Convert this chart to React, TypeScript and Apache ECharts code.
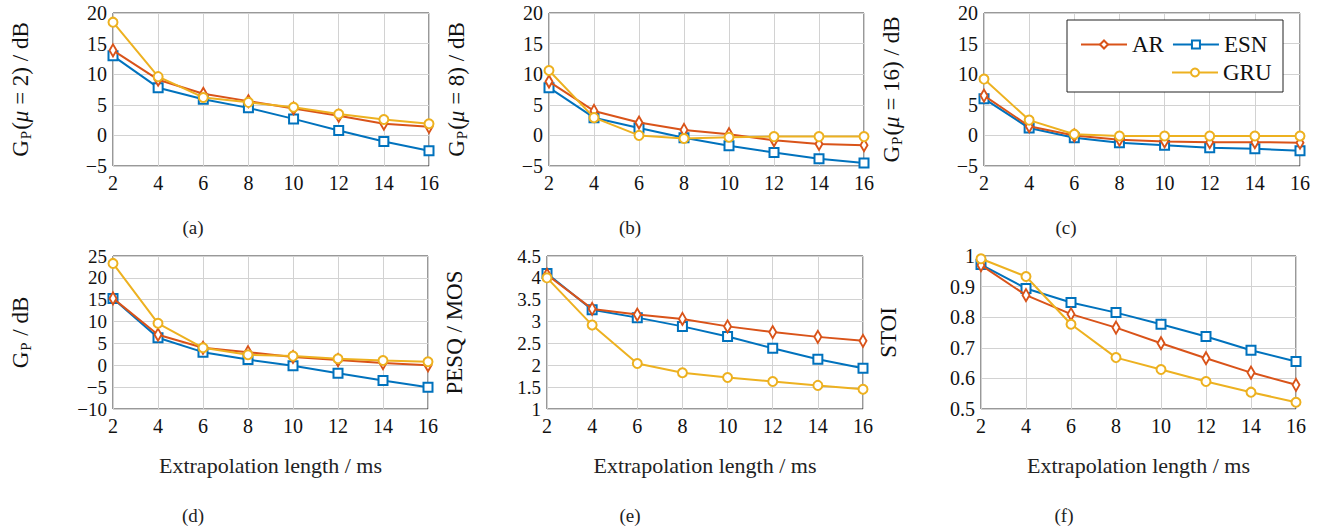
import React, { useEffect, useRef } from "react";
import * as echarts from "echarts";

const xs = [2, 4, 6, 8, 10, 12, 14, 16];

// (a) Gp mu=2
const arA = [13.9, 9.1, 6.8, 5.6, 4.4, 3.2, 1.9, 1.4];
const esnA = [13.0, 7.8, 5.9, 4.5, 2.7, 0.8, -1.0, -2.5];
const gruA = [18.5, 9.6, 6.2, 5.4, 4.6, 3.5, 2.6, 1.9];
// (b) Gp mu=8
const arB = [8.8, 4.0, 2.1, 0.9, 0.2, -0.8, -1.4, -1.6];
const esnB = [7.8, 2.9, 1.2, -0.4, -1.7, -2.8, -3.8, -4.5];
const gruB = [10.6, 2.9, 0.0, -0.5, -0.3, -0.2, -0.2, -0.2];
// (c) Gp mu=16
const arC = [6.5, 1.5, 0.0, -0.7, -1.0, -1.1, -1.1, -1.2];
const esnC = [6.0, 1.2, -0.4, -1.2, -1.6, -2.0, -2.2, -2.5];
const gruC = [9.2, 2.5, 0.2, -0.1, -0.1, -0.1, -0.1, -0.1];
// (d) Gp
const arD = [15.3, 7.0, 4.0, 3.0, 1.9, 1.2, 0.5, 0.0];
const esnD = [15.3, 6.3, 3.0, 1.3, -0.1, -1.8, -3.5, -5.0];
const gruD = [23.3, 9.6, 4.0, 2.4, 2.1, 1.5, 1.1, 0.8];
// (e) PESQ
const arE = [4.07, 3.29, 3.16, 3.06, 2.89, 2.76, 2.65, 2.56];
const esnE = [4.1, 3.27, 3.09, 2.89, 2.66, 2.39, 2.14, 1.93];
const gruE = [4.0, 2.92, 2.04, 1.83, 1.72, 1.63, 1.54, 1.45];
// (f) STOI
const arF = [0.97, 0.872, 0.81, 0.766, 0.715, 0.666, 0.619, 0.579];
const esnF = [0.972, 0.894, 0.848, 0.815, 0.777, 0.737, 0.692, 0.655];
const gruF = [0.991, 0.933, 0.777, 0.668, 0.629, 0.59, 0.555, 0.522];

const xTicks = { min: 2, max: 16, interval: 2 };
const yRanges = [
  { min: -5, max: 20, interval: 5 },
  { min: -5, max: 20, interval: 5 },
  { min: -5, max: 20, interval: 5 },
  { min: -10, max: 25, interval: 5 },
  { min: 1, max: 4.5, interval: 0.5 },
  { min: 0.5, max: 1, interval: 0.1 },
];
const captions = ["(a)", "(b)", "(c)", "(d)", "(e)", "(f)"];
const seriesNames = ["AR", "ESN", "GRU"];
const panelData = [
  [arA, esnA, gruA],
  [arB, esnB, gruB],
  [arC, esnC, gruC],
  [arD, esnD, gruD],
  [arE, esnE, gruE],
  [arF, esnF, gruF],
];

const FONT = "Liberation Serif";
const COLORS = ["#D95319", "#0072BD", "#EDB120"];
const SYMBOLS = ["diamond", "rect", "circle"];
const SYMSIZE: any[] = [[7, 12], 9, 9];

const grids = [
  { left: 113, top: 13, width: 316, height: 153 },
  { left: 549, top: 13, width: 315, height: 153 },
  { left: 984, top: 13, width: 316, height: 153 },
  { left: 113, top: 256, width: 315, height: 153 },
  { left: 547, top: 256, width: 316, height: 153 },
  { left: 981, top: 256, width: 315, height: 153 },
];

const richBase = {
  a: { fontFamily: FONT, fontSize: 23, color: "#111", lineHeight: 26 },
  s: { fontFamily: FONT, fontSize: 15, color: "#111", lineHeight: 26, verticalAlign: "bottom", padding: [0, 1, 0, 1] },
  i: { fontFamily: FONT, fontSize: 23, color: "#111", fontStyle: "italic", lineHeight: 26 },
};
const xNameRich = {
  a: { fontFamily: FONT, fontSize: 22, color: "#222", lineHeight: 24 },
};
const tickRich = {
  t: { fontFamily: FONT, fontSize: 20, color: "#111", lineHeight: 19 },
};
const tickRichSmall = {
  t: { fontFamily: FONT, fontSize: 19, color: "#111", lineHeight: 18 },
};

const yNames = [
  "{a|G}{s|P}{a|(}{i|μ}{a| = 2) / dB}",
  "{a|G}{s|P}{a|(}{i|μ}{a| = 8) / dB}",
  "{a|G}{s|P}{a|(}{i|μ}{a| = 16) / dB}",
  "{a|G}{s|P}{a| / dB}",
  "{a|PESQ / MOS}",
  "{a|STOI}",
];

const captionPos = [
  [193, 227],
  [630, 227],
  [1066, 227],
  [193, 515],
  [630, 515],
  [1064, 515],
];

const fmt = (v: number) => {
  const r = Math.round(v * 1000) / 1000;
  return "{t|" + String(r).replace("-", "\u2212") + "}";
};

export default function App() {
  const ref = useRef<HTMLDivElement>(null);
  useEffect(() => {
    if (!ref.current) return;
    const chart = echarts.init(ref.current, null, { renderer: "svg" });
    const xAxis = grids.map((_, i) => ({
      type: "value",
      gridIndex: i,
      ...xTicks,
      axisLine: { show: false },
      axisTick: { show: false },
      axisLabel: { margin: 7, formatter: fmt, rich: tickRich },
      splitLine: { show: true, lineStyle: { color: "#d2d2d2", width: 1 } },
      name: i >= 3 ? "{a|Extrapolation length / ms}" : "",
      nameLocation: "middle",
      nameGap: 44,
      nameTextStyle: { rich: xNameRich },
    }));
    const yAxis = grids.map((_, i) => ({
      type: "value",
      gridIndex: i,
      ...yRanges[i],
      axisLine: { show: false },
      axisTick: { show: false },
      axisLabel: { margin: 6, formatter: fmt, rich: i === 3 || i === 4 ? tickRichSmall : tickRich },
      splitLine: { show: true, lineStyle: { color: "#d2d2d2", width: 1 } },
      name: yNames[i],
      nameLocation: "middle",
      nameRotate: 90,
      nameGap: 80,
      nameTextStyle: { rich: richBase },
    }));
    const series: any[] = [];
    panelData.forEach((pd, i) => {
      pd.forEach((vals, k) => {
        series.push({
          type: "line",
          name: seriesNames[k],
          xAxisIndex: i,
          yAxisIndex: i,
          data: xs.map((x, j) => [x, vals[j]]),
          color: COLORS[k],
          symbol: SYMBOLS[k],
          symbolSize: SYMSIZE[k],
          showAllSymbol: true,
          lineStyle: { color: COLORS[k], width: 2 },
          itemStyle: { color: "#fff", borderColor: COLORS[k], borderWidth: 2 },
          z: 2 + (k === 1 ? 0 : k === 0 ? 1 : 2),
        });
      });
    });
    const legText = {
      rich: { l: { fontFamily: FONT, fontSize: 23, color: "#111" } },
    };
    const option: any = {
      animation: false,
      backgroundColor: "#fff",
      grid: grids.map((g) => ({ ...g, show: true, borderColor: "#333", borderWidth: 1, containLabel: false })),
      xAxis,
      yAxis,
      series,
      legend: [
        {
          data: ["AR", "ESN"],
          left: 1075,
          top: 28,
          itemWidth: 46,
          itemHeight: 10,
          itemGap: 8,
          formatter: (n: string) => "{l|" + n + "}",
          textStyle: legText,
          z: 6,
        },
        {
          data: ["GRU"],
          left: 1166,
          top: 56,
          itemWidth: 46,
          itemHeight: 10,
          formatter: (n: string) => "{l|" + n + "}",
          textStyle: legText,
          z: 6,
        },
      ],
      graphic: [
        {
          type: "rect",
          shape: { x: 1067, y: 20, width: 216, height: 72 },
          style: { fill: "#fff", stroke: "#222", lineWidth: 1 },
          z: 5,
        },
        ...captions.map((c, i) => ({
          type: "text",
          x: captionPos[i][0],
          y: captionPos[i][1],
          style: {
            text: c,
            font: "19px 'Liberation Serif', serif",
            fill: "#222",
            textAlign: "center",
            textVerticalAlign: "middle",
          },
        })),
      ],
    };
    chart.setOption(option);
    return () => chart.dispose();
  }, []);
  return (
    <div
      ref={ref}
      style={{ position: "absolute", left: 0, top: 0, width: 1338, height: 531 }}
    />
  );
}
